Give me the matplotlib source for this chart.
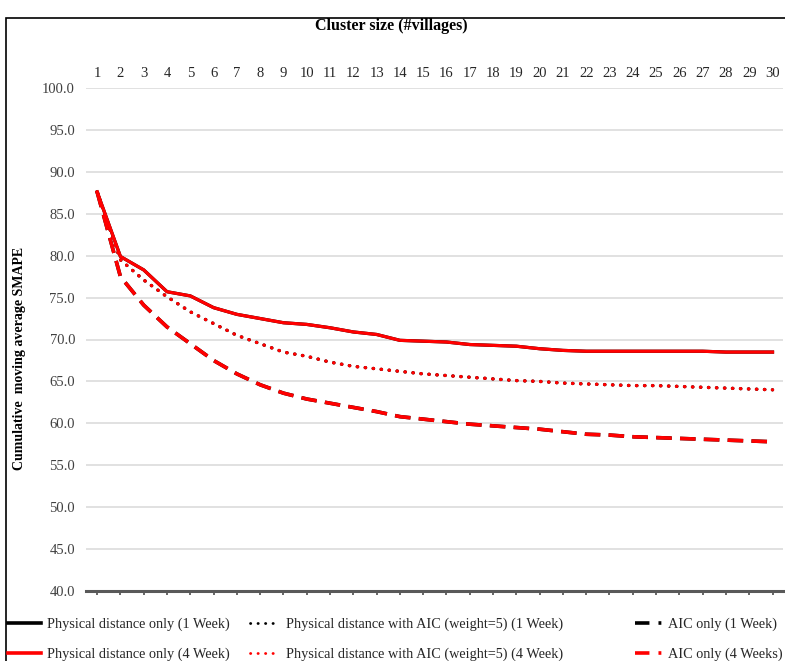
import matplotlib
matplotlib.use("Agg")
import matplotlib.pyplot as plt
from matplotlib.lines import Line2D
from matplotlib.patches import Rectangle

plt.rcParams['font.family'] = ['Liberation Serif', 'DejaVu Serif']

cluster_size = list(range(1, 31))
y_ticks = [40, 45, 50, 55, 60, 65, 70, 75, 80, 85, 90, 95, 100]

# 4-week horizon
phys_4w = [87.6, 79.9, 78.3, 75.7, 75.2, 73.8, 73.0, 72.5, 72.0, 71.8,
           71.4, 70.9, 70.6, 69.9, 69.8, 69.7, 69.4, 69.3, 69.2, 68.9,
           68.7, 68.6, 68.6, 68.6, 68.6, 68.6, 68.6, 68.5, 68.5, 68.5]
aic5_4w = [87.6, 79.5, 77.1, 75.1, 73.3, 71.9, 70.5, 69.5, 68.5, 68.0,
           67.3, 66.8, 66.5, 66.2, 65.9, 65.7, 65.5, 65.3, 65.1, 65.0,
           64.8, 64.7, 64.6, 64.5, 64.5, 64.4, 64.3, 64.2, 64.1, 64.0]
aic_4w = [87.6, 77.5, 74.1, 71.5, 69.5, 67.5, 65.9, 64.6, 63.6, 62.9,
          62.4, 61.9, 61.4, 60.8, 60.5, 60.2, 59.9, 59.7, 59.5, 59.3,
          59.0, 58.7, 58.6, 58.4, 58.3, 58.2, 58.1, 58.0, 57.9, 57.8]

# 1-week horizon (hidden under the red lines in the original)
phys_1w = list(phys_4w)
aic5_1w = list(aic5_4w)
aic_1w = list(aic_4w)

solid = '-'
dotted = (0, (0.1, 2.3))
dashed = (0, (4.3, 2.3))

W, H = 785, 661
fig = plt.figure(figsize=(W / 100, H / 100), dpi=100)
ax = fig.add_axes([85.5 / W, 1 - 591 / H, (783 - 85.5) / W, (591 - 88) / H])

# black series first, same widths so the red ones cover them
ax.plot(cluster_size, phys_1w, color='black', lw=2.3, ls=solid)
ax.plot(cluster_size, aic5_1w, color='black', lw=2.4, ls=dotted, dash_capstyle='round')
ax.plot(cluster_size, aic_1w, color='black', lw=2.6, ls=dashed)
ax.plot(cluster_size, phys_4w, color='#ff0000', lw=2.3, ls=solid)
ax.plot(cluster_size, aic5_4w, color='#ff0000', lw=2.4, ls=dotted, dash_capstyle='round')
ax.plot(cluster_size, aic_4w, color='#ff0000', lw=2.6, ls=dashed)

ax.set_xlim(0.5, 30.45)
ax.set_ylim(40, 100)
ax.set_yticks(y_ticks)
ax.set_yticklabels([f"{v:.1f}" for v in y_ticks])
ax.set_xticks(cluster_size)
ax.grid(axis='y', color='#d9d9d9', lw=1.1)
ax.set_axisbelow(True)
for s in ['top', 'right', 'left']:
    ax.spines[s].set_visible(False)
ax.spines['bottom'].set_color('#595959')
ax.spines['bottom'].set_linewidth(2.2)
ax.spines['bottom'].set_zorder(5)

ax.tick_params(axis='x', bottom=True, top=False, labelbottom=False, labeltop=True,
               direction='out', length=3, width=1.3, color='#595959',
               labelsize=10.5, labelcolor='#262626', pad=3)
ax.tick_params(axis='y', left=False, labelsize=10.5, labelcolor='#404040', pad=4)

fig.text(391 / W, 1 - 26 / H, 'Cluster size (#villages)', ha='center', va='center',
         fontsize=11.5, fontweight='bold')
fig.text(20 / W, 1 - 358 / H, 'Cumulative  moving average SMAPE', ha='center', va='center',
         rotation=90, fontsize=10, fontweight='bold')

# outer frame
fig.add_artist(Rectangle((6 / W, -0.05), 1.1, 1 - 18 / H + 0.05, transform=fig.transFigure,
                         fill=False, edgecolor='black', lw=1.2))

# legend in three separate columns
leg_kw = dict(frameon=False, loc='upper left', borderpad=0, borderaxespad=0,
              fontsize=10.3, labelcolor='#262626', handletextpad=0.4, labelspacing=1.15)
col1 = [Line2D([], [], color='black', lw=2.6),
        Line2D([], [], color='#ff0000', lw=2.6)]
fig.legend(col1, ['Physical distance only (1 Week)', 'Physical distance only (4 Week)'],
           bbox_to_anchor=(8 / W, 1 - 618 / H), handlelength=2.3, **leg_kw)
col2 = [Line2D([], [], color='black', lw=2.0, ls=(0, (0.1, 2.6)), dash_capstyle='round'),
        Line2D([], [], color='#ff0000', lw=2.0, ls=(0, (0.1, 2.6)), dash_capstyle='round')]
fig.legend(col2, ['Physical distance with AIC (weight=5) (1 Week)',
                  'Physical distance with AIC (weight=5) (4 Week)'],
           bbox_to_anchor=(250 / W, 1 - 618 / H), handlelength=2.1, **leg_kw)
col3 = [Line2D([], [], color='black', lw=2.6, ls=(0, (4, 2.5, 0.8, 3))),
        Line2D([], [], color='#ff0000', lw=2.6, ls=(0, (4, 2.5, 0.8, 3)))]
fig.legend(col3, ['AIC only (1 Week)', 'AIC only (4 Weeks)'],
           bbox_to_anchor=(635 / W, 1 - 618 / H), handlelength=1.9, **leg_kw)

fig.savefig('out.png', dpi=100)
